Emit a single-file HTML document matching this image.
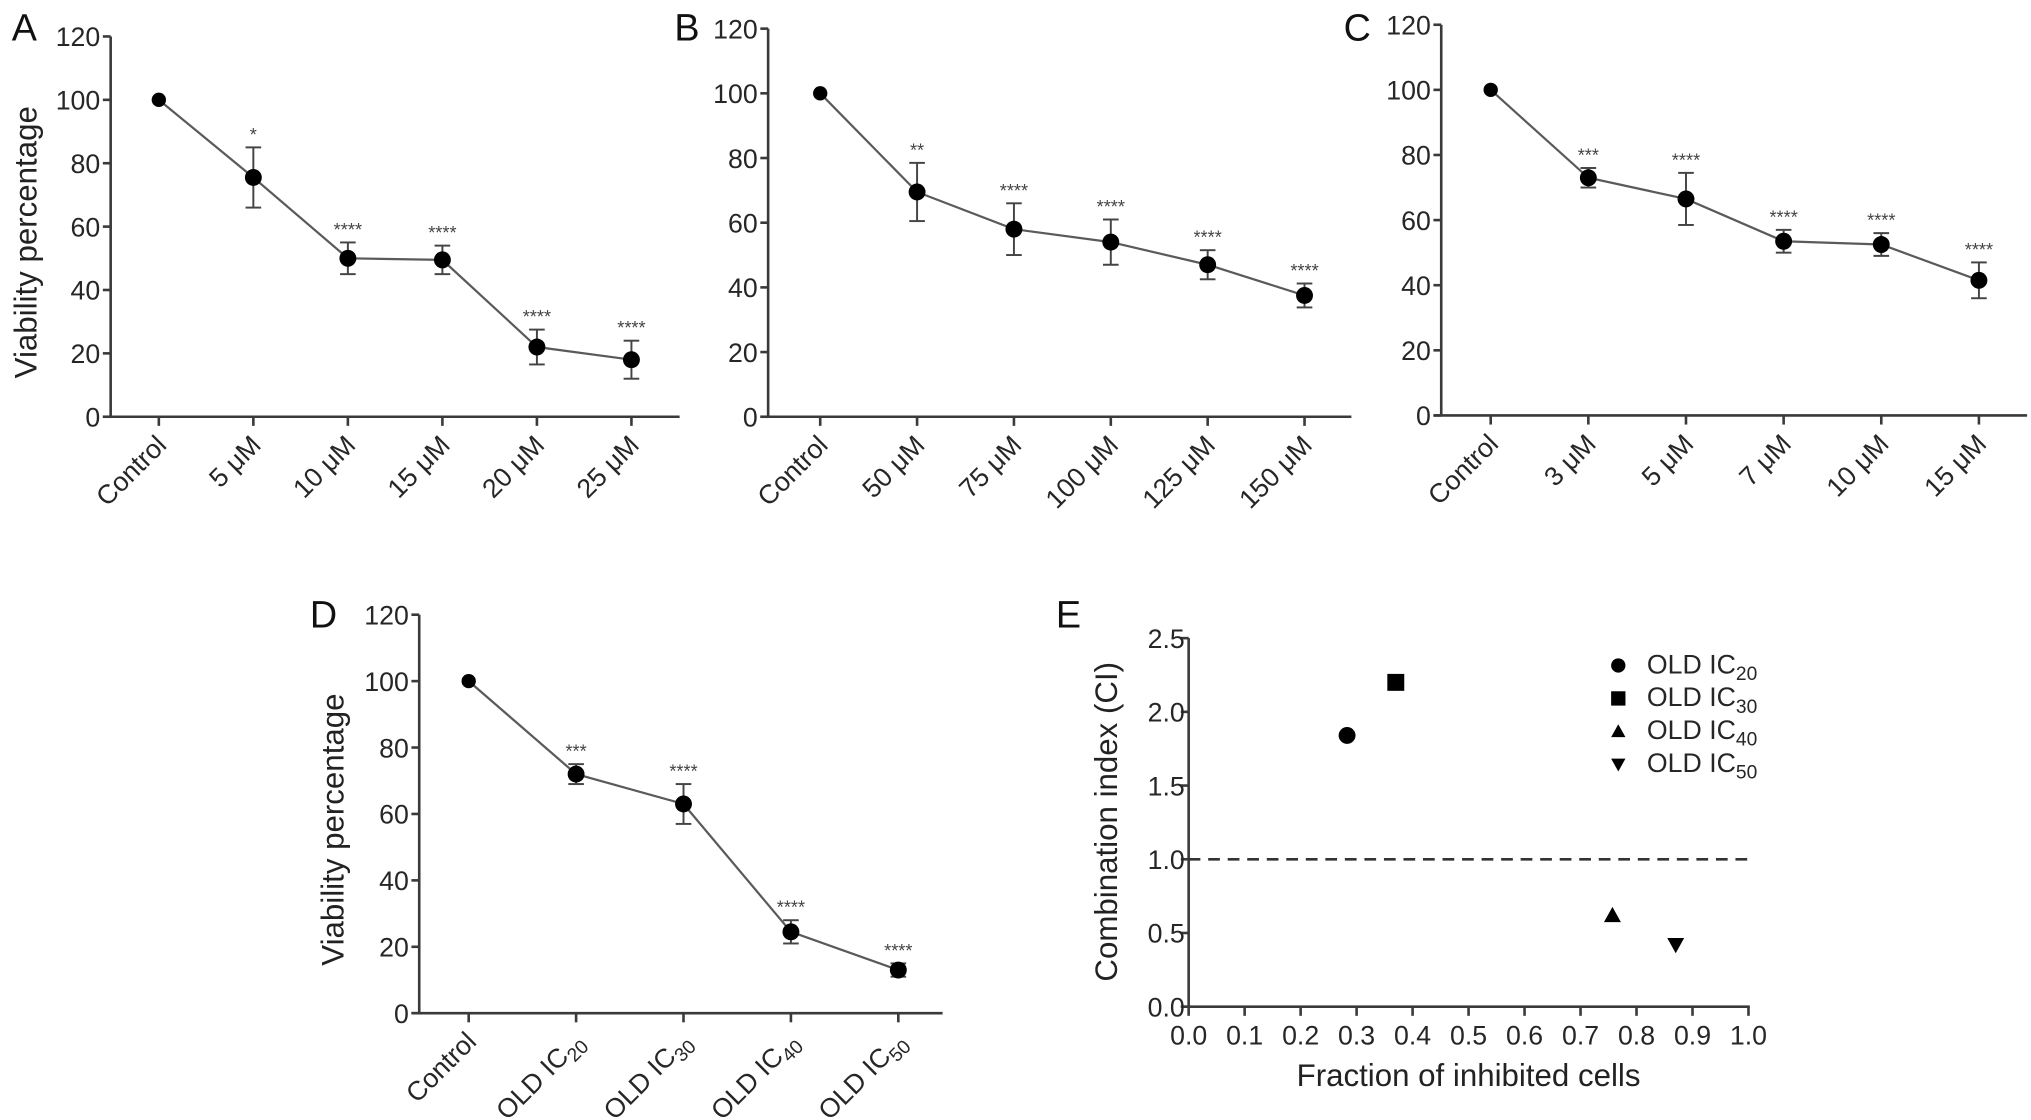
<!DOCTYPE html>
<html><head><meta charset="utf-8"><style>
html,body{margin:0;padding:0;background:#fff;}
svg{display:block;font-family:"Liberation Sans",Arial,sans-serif;}
</style></head><body>
<svg id="fig" width="2031" height="1120" viewBox="0 0 1560 860" preserveAspectRatio="none" xmlns="http://www.w3.org/2000/svg"></svg>
<script>
// Panel A
const catsA = ["Control","5 μM","10 μM","15 μM","20 μM","25 μM"];
const valsA = [100,75.5,50,49.5,22,18];
const errA = [0,9.5,5,4.5,5.5,6];
const starsA = ["","*","****","****","****","****"];
// Panel B
const catsB = ["Control","50 μM","75 μM","100 μM","125 μM","150 μM"];
const valsB = [100,69.5,58,54,47,37.5];
const errB = [0,9,8,7,4.5,3.7];
const starsB = ["","**","****","****","****","****"];
// Panel C
const catsC = ["Control","3 μM","5 μM","7 μM","10 μM","15 μM"];
const valsC = [100,73,66.5,53.5,52.5,41.5];
const errC = [0,3,8,3.5,3.5,5.5];
const starsC = ["","***","****","****","****","****"];
// Panel D
const catsD = ["Control","OLD IC|20","OLD IC|30","OLD IC|40","OLD IC|50"];
const valsD = [100,72,63,24.5,13];
const errD = [0,3,6,3.5,2];
const starsD = ["","***","****","****","****"];
const yTicksV = [0,20,40,60,80,100,120];
// Panel E
const seriesE = ["OLD IC|20","OLD IC|30","OLD IC|40","OLD IC|50"];
const fracE = [0.283,0.37,0.757,0.87];
const ciE = [1.84,2.2,0.62,0.42];
const shapesE = ["circle","square","up","down"];
const xTicksE = [0,0.1,0.2,0.3,0.4,0.5,0.6,0.7,0.8,0.9,1.0];
const yTicksE = [0,0.5,1.0,1.5,2.0,2.5];

const svg = document.getElementById('fig');
const NS = "http://www.w3.org/2000/svg";
function mk(tag, attrs, parent){const e=document.createElementNS(NS,tag);for(const k in attrs)e.setAttribute(k,attrs[k]);(parent||svg).appendChild(e);return e;}
const AX="#3a3a3a", LN="#5a5a5a", TX="#262626";

function subLabel(t, txt){
  const parts = txt.split("|");
  t.textContent = "";
  const a = document.createElementNS(NS,"tspan"); a.textContent = parts[0]; t.appendChild(a);
  if(parts[1]){const b=document.createElementNS(NS,"tspan");b.textContent=parts[1];b.setAttribute("font-size","0.72em");b.setAttribute("dy","5");t.appendChild(b);}
}

function linePanel(id, letter, lx, ly, P, cats, vals, errs, stars, ytitle){
  const g = mk("g",{});
  
  
  const y = v => P.y0 - (v/120)*(P.y0-P.y120);
  const x = i => P.c0 + i*P.dx;
  const lab = mk("text",{x:lx,y:ly,"font-size":29,fill:"#111"},g); lab.textContent=letter;
  
  
  const ya = mk("line",{x1:P.ax,y1:P.y120,x2:P.ax,y2:P.y0,stroke:AX,"stroke-width":2},g);
  
  
  const xa = mk("line",{x1:P.ax-6,y1:P.y0,x2:P.xend,y2:P.y0,stroke:AX,"stroke-width":2},g);
  
  
  yTicksV.forEach(v=>{
    mk("line",{x1:P.ax-6,y1:y(v),x2:P.ax,y2:y(v),stroke:AX,"stroke-width":2},g);
    const t=mk("text",{x:P.ax-8,y:y(v)+7.5,"font-size":20.5,"text-anchor":"end",fill:TX},g);t.textContent=v;
    
    
  });
  cats.forEach((c,i)=>{
    mk("line",{x1:x(i),y1:P.y0,x2:x(i),y2:P.y0+7,stroke:AX,"stroke-width":2},g);
    const t=mk("text",{x:x(i)+7,y:P.y0+23,"font-size":20.5,"text-anchor":"end",fill:TX,transform:`rotate(-45 ${x(i)+7} ${P.y0+23})`},g);
    subLabel(t,c);
    
    
  });
  const pl = mk("polyline",{points:vals.map((v,i)=>x(i)+","+y(v)).join(" "),fill:"none",stroke:LN,"stroke-width":1.7},g);
  
  
  vals.forEach((v,i)=>{
    if(errs[i]>0){
      const eg=mk("g",{stroke:"#444","stroke-width":1.5},g);
      
      
      mk("line",{x1:x(i),y1:y(v+errs[i]),x2:x(i),y2:y(v-errs[i])},eg);
      mk("line",{x1:x(i)-6,y1:y(v+errs[i]),x2:x(i)+6,y2:y(v+errs[i])},eg);
      mk("line",{x1:x(i)-6,y1:y(v-errs[i]),x2:x(i)+6,y2:y(v-errs[i])},eg);
    }
    const c=mk("circle",{cx:x(i),cy:y(v),r:i==0?5.5:6.5,fill:"#000"},g);
    
    
    if(stars[i]){
      const s=mk("text",{x:x(i),y:y(v+errs[i])-5,"font-size":14,"text-anchor":"middle",fill:"#444"},g);s.textContent=stars[i];
      
      
    }
  });
  if(ytitle){
    const cy=(P.y0+P.y120)/2+12;
    const t=mk("text",{x:ytitle,y:cy,"font-size":24,"text-anchor":"middle",fill:"#222",transform:`rotate(-90 ${ytitle} ${cy})`},g);
    t.textContent="Viability percentage";
    
    
  }
}

linePanel("a","A",9,31,{ax:85,y0:320,y120:28,c0:122,dx:72.6,xend:522},catsA,valsA,errA,starsA,28);
linePanel("b","B",518,31,{ax:590,y0:320,y120:22,c0:630,dx:74.4,xend:1038},catsB,valsB,errB,starsB,0);
linePanel("c","C",1032,31,{ax:1107,y0:319,y120:19,c0:1145,dx:75,xend:1557},catsC,valsC,errC,starsC,0);
linePanel("d","D",238,482,{ax:322,y0:778,y120:472,c0:360,dx:82.5,xend:724},catsD,valsD,errD,starsD,264);

// Panel E
(function(){
  const g=mk("g",{});
  
  
  const ax=913, x1=1343, y0=773, y25=490;
  const x=v=>ax+v*(x1-ax);
  const y=v=>y0-(v/2.5)*(y0-y25);
  const lab=mk("text",{x:811,y:482,"font-size":29,fill:"#111"},g);lab.textContent="E";
  
  
  mk("line",{x1:ax,y1:y25,x2:ax,y2:y0,stroke:AX,"stroke-width":2},g);
  mk("line",{x1:ax-6,y1:y0,x2:x1+1,y2:y0,stroke:AX,"stroke-width":2},g);
  yTicksE.forEach(v=>{
    mk("line",{x1:ax-6,y1:y(v),x2:ax,y2:y(v),stroke:AX,"stroke-width":2},g);
    const t=mk("text",{x:ax-3,y:y(v)+7.5,"font-size":20.5,"text-anchor":"end",fill:TX},g);t.textContent=v.toFixed(1);
    
    
  });
  xTicksE.forEach(v=>{
    mk("line",{x1:x(v),y1:y0,x2:x(v),y2:y0+7,stroke:AX,"stroke-width":2},g);
    const t=mk("text",{x:x(v),y:y0+29,"font-size":20.5,"text-anchor":"middle",fill:TX},g);t.textContent=v.toFixed(1);
    
    
  });
  const dl=mk("line",{x1:ax,y1:y(1),x2:x1+2,y2:y(1),stroke:"#333","stroke-width":2,"stroke-dasharray":"9,6"},g);
  
  
  function marker(shape,cx,cy,s){
    if(shape=="circle") return mk("circle",{cx,cy,r:s,fill:"#000"},g);
    if(shape=="square") return mk("rect",{x:cx-s,y:cy-s,width:2*s,height:2*s,fill:"#000"},g);
    if(shape=="up") return mk("polygon",{points:`${cx},${cy-s} ${cx-s},${cy+s*0.8} ${cx+s},${cy+s*0.8}`,fill:"#000"},g);
    return mk("polygon",{points:`${cx},${cy+s} ${cx-s},${cy-s*0.8} ${cx+s},${cy-s*0.8}`,fill:"#000"},g);
  }
  fracE.forEach((f,i)=>{
    const m=marker(shapesE[i],x(f),y(ciE[i]),6.5);
    
    
  });
  seriesE.forEach((s,i)=>{
    const ly=511+i*25.3;
    const m=marker(shapesE[i],1243,ly,5.5);
    
    
    const t=mk("text",{x:1265,y:ly+6,"font-size":20.5,fill:TX},g);subLabel(t,s);
    
    
  });
  const yt=mk("text",{x:858,y:631,"font-size":24,"text-anchor":"middle",fill:"#222",transform:"rotate(-90 858 631)"},g);
  yt.textContent="Combination index (CI)";
  
  
  const xt=mk("text",{x:1128,y:834,"font-size":24,"text-anchor":"middle",fill:"#222"},g);
  xt.textContent="Fraction of inhibited cells";
  
  
})();
</script>
</body></html>
